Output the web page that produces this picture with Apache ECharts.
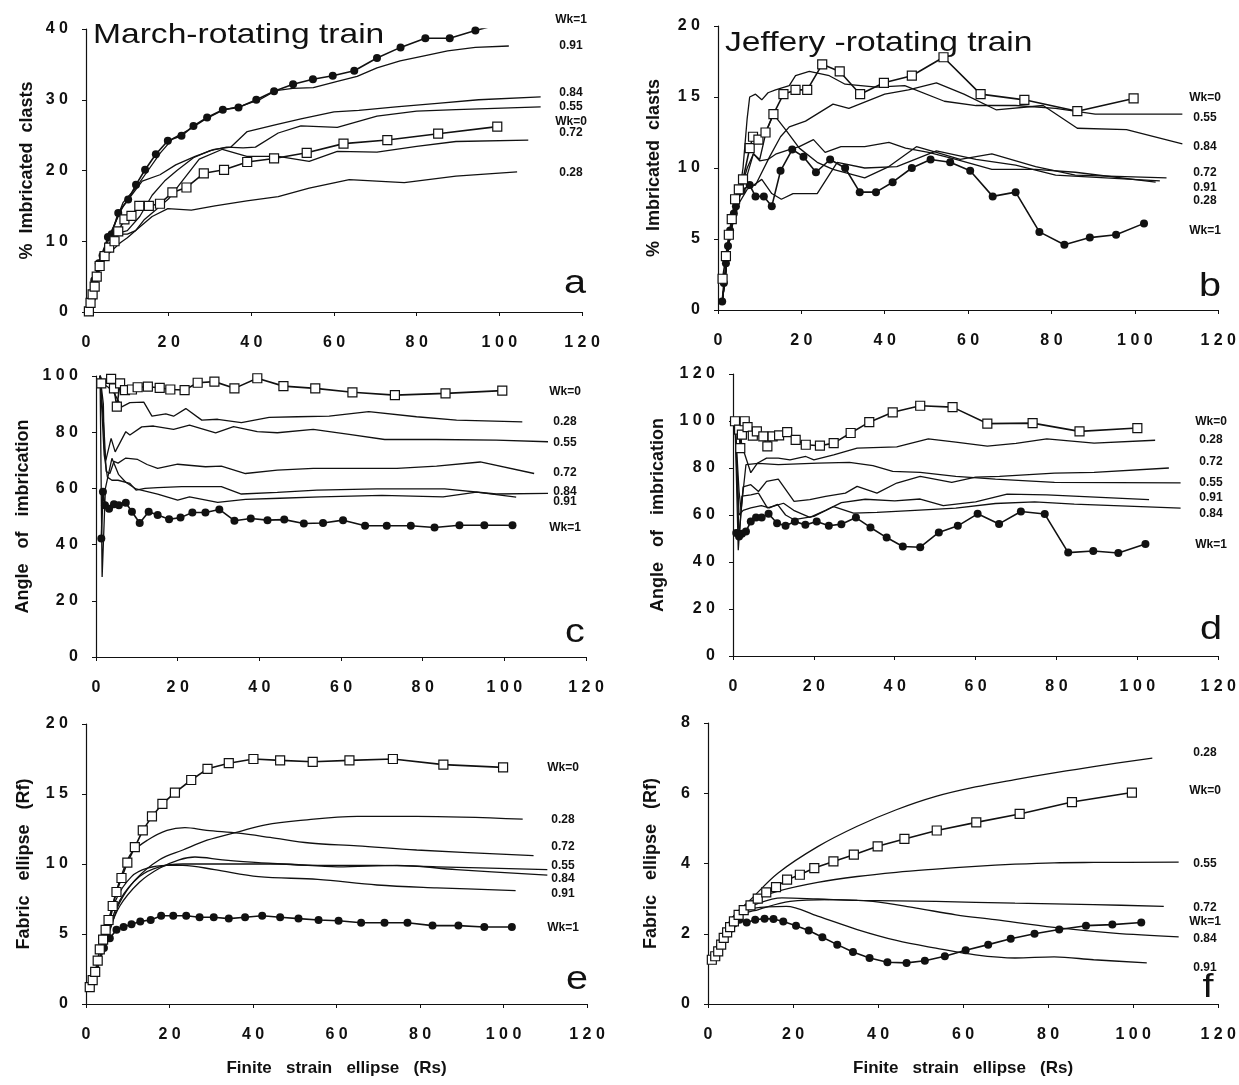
<!DOCTYPE html>
<html>
<head>
<meta charset="utf-8">
<script src="https://cdn.jsdelivr.net/npm/echarts@6/dist/echarts.min.js"></script>
<style>
html, body { margin: 0; padding: 0; background: #fff; }
#chart { width: 1239px; height: 1085px; }
</style>
</head>
<body>
<div id="chart"></div>
<script>
// ---- panel a : March-rotating train, % imbricated clasts ----
var aWk1 = [[1,0],[1.5,2],[2,4.5],[3.1,6.9],[4,8],[5.3,10.6],[6.2,11],[7.8,14],[10.2,15.9],[12.1,18],[14.3,20.1],[16.9,22.3],[19.8,24.2],[23.1,24.9],[26,26.3],[29.3,27.5],[33.1,28.6],[36.9,28.9],[41.2,30],[45.5,31.2],[50.1,32.2],[54.9,32.9],[59.7,33.4],[64.9,34.1],[70.4,35.9],[76.1,37.4],[82.1,38.7],[88,38.7],[94.2,39.8],[100.9,40.8]];
var a091 = [[1,0],[2,4],[3,7],[5,10],[7,12.5],[9,15.5],[12,17.5],[15,20],[18,22.5],[21,24.5],[25,25.8],[29,27.3],[33,28.5],[38,29.2],[42,30],[46,31.3],[50,31.6],[55,31.7],[60.8,32.6],[65.6,33.3],[70.4,34.5],[76,35.5],[81.8,36.2],[87.5,36.9],[94.2,37.4],[102.3,37.6]];
var a084 = [[1,0],[2,4],[3,6.5],[5,9.5],[7,12.5],[9,15],[11,16.5],[13.6,18.5],[17.9,19.4],[21.7,20.8],[26.4,22],[31,23],[35,23.3],[39,25.5],[46,26.5],[52,27.3],[60,28.3],[66,28.5],[75,29],[85,29.5],[95,30],[110,30.4]];
var a055 = [[1,0],[2,3.5],[3,6],[5,9],[7,11],[10,11.5],[13,13.5],[16,16.5],[19,18.5],[22,20],[26,21.8],[30,22.8],[34,23.3],[38,23.2],[41,23.3],[46.5,25.3],[52,26.3],[60.8,26.1],[70.4,27.7],[80,28.4],[89.5,28.6],[110,29]];
var a072 = [[1,0],[2,3.5],[3,6],[5,8.5],[8,11],[10,11],[12,11.5],[14,13],[17,14.5],[20,16],[22.6,18],[27.4,21.6],[33,23],[38.9,22],[46.5,22],[54,21.3],[60.8,22.7],[70.4,22.6],[80,23.4],[89.5,24.1],[107,24.3]];
var a028 = [[1,0],[2,3],[3,5.5],[5,8],[8.3,9.8],[10,10.5],[13,12],[16,13.5],[19.8,14.6],[25.5,14.4],[31.2,15],[38.9,15.7],[46.5,16.3],[54,17.5],[63.7,18.7],[77,18.3],[89.5,19.2],[104.3,19.8]];
var aWk0 = [[0.7,0.1],[1.1,1.3],[1.6,2.5],[2.1,3.6],[2.6,5],[3.3,6.5],[4.5,7.9],[5.6,9.1],[6.9,10],[7.8,11.4],[9.3,13.1],[11,13.6],[12.9,15],[15.2,15],[17.9,15.3],[20.9,16.9],[24.3,17.6],[28.5,19.6],[33.4,20.1],[39,21.2],[45.5,21.7],[53.4,22.5],[62.3,23.8],[72.9,24.3],[85.2,25.2],[99.5,26.2]];

// ---- panel b : Jeffery-rotating train, % imbricated clasts ----
var bWk1 = [[1,0.6],[1.4,1.9],[1.9,3.3],[2.4,4.5],[2.9,5.6],[3.8,6.8],[4.3,7.3],[5.7,8.4],[7.6,8.8],[9,8],[11,8],[12.9,7.3],[15,9.8],[17.8,11.3],[20.5,10.8],[23.5,9.7],[26.9,10.6],[30.5,10],[34,8.3],[37.9,8.3],[41.9,9],[46.5,10],[51,10.6],[55.7,10.4],[60.5,9.8],[65.9,8],[71.4,8.3],[77.1,5.5],[83.1,4.6],[89.2,5.1],[95.5,5.3],[102.2,6.1]];
var bWk0 = [[1.1,2.2],[1.9,3.8],[2.6,5.3],[3.3,6.4],[4.1,7.8],[5,8.5],[6,9.2],[7.6,11.4],[8.4,12.2],[9.7,12],[11.4,12.5],[13.3,13.8],[15.7,15.2],[18.6,15.5],[21.4,15.5],[25,17.3],[29.2,16.8],[34.1,15.2],[39.8,16],[46.5,16.5],[54.1,17.8],[63,15.2],[73.5,14.8],[86.2,14],[99.7,14.9]];
var b055 = [[1,0.5],[2,3],[3,5.5],[4,7],[5,8],[6,10],[7,13.5],[7.6,15],[9,15.2],[10.5,14.8],[12,15.3],[13.8,15.5],[17.1,15.8],[18.6,16.5],[21.9,16.8],[26.7,16.5],[30.5,15.9],[38,15.7],[44.8,15.8],[54.3,14.7],[61.9,14.4],[71.4,14.4],[81,14.2],[90.5,13.8],[111.4,13.8]];
var b084 = [[1,0.5],[2,3],[3,5.5],[5,8],[7,8.7],[9,8.8],[12.4,10.8],[15,12.2],[17.1,12.9],[21,13.3],[27.6,14.5],[31.4,14.2],[40,15.2],[45.7,15.5],[52.4,16],[59,15.2],[66.7,14.1],[78,14.4],[86.2,12.8],[98,12.7],[111.4,11.7]];
var b072 = [[1,0.5],[2,3],[3,5.5],[5,8],[7,9.5],[8.5,11],[10,10.6],[11.5,12.5],[13.3,13.8],[16.2,12.7],[19.5,11.4],[23.8,10.4],[27.6,9.9],[35.2,9.3],[41,10.1],[47.6,11.5],[52.4,11.1],[58.1,10.6],[65.7,11],[76.2,10.1],[85.7,9.5],[107.6,9.3]];
var b091 = [[1,0.5],[2,3],[3,5.5],[5,8],[7,10],[8.5,11],[10,10.5],[12,10.6],[14,11],[17.1,11.3],[19.5,11.5],[22.9,12],[25.7,11.1],[29.5,11.5],[35.2,11.5],[41,11.8],[45,11.4],[50.5,11.1],[57.1,10.6],[65.7,9.9],[76.2,9.9],[85.7,9.7],[105,9]];
var b028 = [[1,0.5],[2,3],[3,5.5],[5,7.5],[7,8.5],[8.6,8.8],[10.5,9.2],[12.9,8.2],[15.2,7.8],[18,8.2],[23.8,8.2],[28.6,10.4],[35.2,10],[42.9,10.1],[52.4,11.2],[61.9,10.6],[71.4,10.2],[81,9.5],[106,9.1]];

// ---- panel c : March-rotating train, angle of imbrication ----
var cWk0 = [[1,100.4],[1.3,97.4],[3.7,99],[4.4,95.6],[5.1,89.1],[5.9,97.4],[7.1,95],[8.8,95.2],[10.2,96],[12.7,96.2],[15.6,95.8],[18.2,95.2],[21.7,95],[24.9,97.6],[29,98],[33.9,95.6],[39.5,99.2],[45.9,96.4],[53.7,95.6],[62.8,94.2],[73.2,93.2],[85.6,93.8],[99.5,94.8]];
var cWk1 = [[1.3,42.2],[1.7,58.8],[2.2,54],[3.2,52.8],[4.4,54.4],[5.6,54],[7.3,54.9],[8.8,51.7],[10.7,47.7],[12.9,51.7],[15.1,50.5],[17.9,49],[20.7,49.6],[23.6,51.4],[26.8,51.4],[30.2,52.5],[33.9,48.5],[37.9,49.3],[42,48.7],[46.1,48.9],[50.9,47.5],[55.6,47.7],[60.5,48.7],[65.9,46.7],[71.2,46.7],[77.1,46.7],[82.9,46.1],[89,46.9],[95.1,46.9],[102,46.9]];
var c028 = [[1,100],[2,97],[3,96],[4.4,94],[6.3,89],[8.3,90.5],[11.7,90.7],[13.7,85.7],[17.1,86.5],[19,85.7],[22,88.4],[25.9,84.3],[29.8,84.6],[35.6,83.4],[42.4,85.3],[49.3,85.5],[57.1,85.7],[66.8,87.3],[78.5,85.5],[88.3,84.3],[104.4,83.7]];
var c055 = [[1,100],[1.8,90],[2,74.8],[2.4,70],[3.7,77.8],[4.7,73],[7.3,80.2],[8.3,79],[11.2,81.9],[14.1,82.2],[19,81],[22.9,82.5],[29.3,79.8],[33.7,82],[39.5,80.2],[44.4,79.8],[53.2,81],[62,79.2],[70.7,77.4],[83.4,77.4],[98,77.2],[110.7,76.6]];
var c072 = [[1,100],[2,80],[2.5,66],[3.4,65.3],[4.4,69.6],[5.4,69],[7.3,70.8],[10.2,70.3],[12.5,68.5],[15.1,67.1],[20,68.6],[26.8,67.7],[30.7,67.9],[36.6,65.3],[44.4,66.5],[53.2,67.1],[63.9,67.1],[73.7,67.1],[83.4,67.9],[94.1,69.4],[107.3,65.3]];
var c084 = [[1,100],[2,72],[2.8,64],[3.9,62.9],[5.4,62.9],[8.3,61.8],[9.8,59.4],[12,60],[15.1,60.3],[21,60.6],[30.7,60.6],[35.6,58],[44.4,58.6],[54.1,59.4],[68.8,59.8],[85.4,59.8],[98,58],[110.7,58.2]];
var c091 = [[1,100],[1.5,28.5],[2.3,60],[3.9,70.7],[5.5,65],[7.3,62.2],[9.8,59.8],[15.1,58],[20,55.8],[22.9,57],[29.8,55],[36.6,56.1],[45,56.5],[55,57],[70,57.5],[85,57],[93.2,58.7],[102.9,56.9]];

// ---- panel d : Jeffery-rotating train, angle of imbrication ----
var dWk0 = [[0.5,99.9],[1.5,96.3],[1.8,88.5],[2.2,94.2],[2.9,99.9],[3.6,97.4],[4.9,93.8],[5.9,95.6],[7.5,93.5],[8.5,89.2],[9.8,93.5],[11.4,93.9],[13.4,95.3],[15.5,92],[18,89.9],[21.5,89.5],[24.9,90.6],[29.1,94.9],[33.7,99.5],[39.5,103.7],[46.3,106.5],[54.3,105.9],[62.9,98.9],[74.1,99.1],[85.7,95.6],[100,97]];
var dWk1 = [[0.8,52.3],[1.5,50.9],[2.2,52],[3.2,53],[4.4,57.2],[5.7,58.9],[7.1,58.9],[8.8,60.5],[10.9,56.5],[13,55.4],[15.3,57.2],[17.9,55.8],[20.7,57.2],[23.7,55.4],[26.8,56.1],[30.4,58.9],[34,54.7],[38,50.4],[42,46.6],[46.3,46.3],[50.9,52.6],[55.6,55.4],[60.5,60.5],[65.8,56.2],[71.2,61.5],[77.1,60.4],[82.9,44],[89.1,44.7],[95.3,43.8],[102,47.7]];
var d028 = [[0.5,100],[1.5,95],[2.5,88],[4.4,78],[6,82],[8.3,84.2],[11.2,84.2],[14.1,83.5],[18,84.9],[20,83.5],[24.9,85.6],[30.7,88.5],[40.5,89],[48.3,92.4],[55.1,91],[62.9,89.3],[70,90.5],[77.6,92.4],[89.3,90.6],[104.4,91.8]];
var d055 = [[0.5,100],[1.5,70],[2,62],[3.2,81.4],[6.3,82],[11.2,81.4],[21,82.1],[28.8,82.4],[34.6,81],[39.5,78.6],[46.3,78.1],[55.1,76.4],[64.9,75.3],[79.5,73.9],[110.7,73.7]];
var d072 = [[0.5,100],[1.5,50],[2.5,72],[4.4,72.9],[6.3,70],[8.3,74.3],[11.2,75.3],[15.1,65.8],[19,66.5],[22.9,67.9],[27.8,69.3],[30.7,72.2],[35.6,69.3],[40.5,73.6],[46.3,76.4],[54.1,73.9],[60,76.1],[65.9,76.4],[79.5,77.8],[89.3,78.1],[107.8,80]];
var d091 = [[0.5,100],[1.3,45],[2.2,68],[4.4,68.6],[6.3,69.3],[8.5,63],[10.5,64],[12.5,65],[15,62],[19,59],[22.9,62],[26.8,65.3],[32.7,66.7],[40,66],[46.3,66.8],[52,64],[60,65.6],[67.8,68.9],[77.6,68.6],[102.9,66.5]];
var d084 = [[0.5,100],[1.5,60],[2.5,62],[4.4,63],[7,64],[9,63],[11,64.5],[13,60],[15.1,58],[20,59.4],[24.9,63.6],[29.8,60.8],[35.6,61.1],[45,62],[55.1,62.9],[64.9,64.9],[74.6,65.6],[84.4,64.6],[110.7,62.9]];

// ---- panel e : March-rotating train, fabric ellipse ----
var eWk0 = [[0.9,1.2],[1.6,1.7],[2.2,2.3],[2.8,3.1],[3.3,3.9],[4.1,4.6],[4.7,5.3],[5.4,6],[6.4,7],[7.3,8],[8.5,9],[9.9,10.1],[11.7,11.2],[13.6,12.4],[15.8,13.4],[18.3,14.3],[21.3,15.1],[25.2,16],[29.1,16.8],[34.2,17.2],[40.1,17.5],[46.5,17.4],[54.3,17.3],[63.1,17.4],[73.5,17.5],[85.6,17.1],[99.9,16.9]];
var eWk1 = [[4.3,4],[5.7,4.7],[7.3,5.3],[9,5.5],[10.9,5.7],[13,5.9],[15.5,6],[18,6.3],[20.9,6.3],[24,6.3],[27.2,6.2],[30.6,6.2],[34.2,6.1],[38.1,6.2],[42.2,6.3],[46.5,6.2],[50.9,6.1],[55.7,6],[60.5,5.95],[65.9,5.8],[71.5,5.8],[77,5.8],[83,5.6],[89.2,5.6],[95.4,5.5],[102,5.5]];
var e028 = [[1,1.2],[3,2.8],[4.7,4.5],[6,5.5],[8,7.2],[11.9,8.9],[17.6,10.3],[23.2,11],[29,11.7],[36.5,12.3],[43,12.8],[50.8,13.1],[65,13.4],[79.2,13.4],[104.6,13.2]];
var e072 = [[1,1.2],[3,3],[5.2,5.5],[7,7.8],[9,9.6],[10.9,10.8],[14.7,11.7],[19.4,12.4],[23.7,12.6],[28.9,12.4],[36.5,12.2],[44.1,11.9],[53.6,11.5],[65,11.3],[79.2,11],[107.2,10.6]];
var e055 = [[1,1.2],[3,2.8],[5,4.8],[8.1,7],[12.8,8.7],[17.6,9.7],[22.3,10.3],[26.1,10.5],[32.7,10.3],[41.3,10.1],[55.5,9.9],[69.7,9.9],[84,9.8],[110.5,9.6]];
var e084 = [[1,1.2],[3,2.8],[5,4.9],[8.1,7.4],[12.8,9.1],[17.6,9.8],[23.2,10],[32.7,10],[46,10],[60.3,9.8],[74.5,9.9],[88.7,9.6],[110.5,9.2]];
var e091 = [[1,1.2],[3,2.8],[5,5],[7.1,7.4],[10.9,9.1],[14.7,9.7],[19.4,9.9],[23.2,9.9],[30.8,9.6],[41.3,9.1],[55.5,8.9],[69.7,8.5],[84,8.3],[102.9,8.1]];

// ---- panel f : Jeffery-rotating train, fabric ellipse ----
var fWk0 = [[0.9,1.26],[1.7,1.36],[2.4,1.5],[3.1,1.69],[3.7,1.88],[4.5,2.04],[5.2,2.19],[6.1,2.35],[7.2,2.54],[8.4,2.67],[10,2.81],[11.7,3],[13.7,3.18],[16,3.33],[18.6,3.54],[21.6,3.68],[25,3.87],[29.5,4.06],[34.3,4.25],[39.9,4.49],[46.2,4.7],[53.8,4.94],[63.1,5.17],[73.3,5.41],[85.6,5.75],[99.7,6.02]];
var fWk1 = [[3,1.7],[4.9,2.1],[6.1,2.29],[7.4,2.4],[9.1,2.32],[11.1,2.4],[13.3,2.43],[15.4,2.42],[17.7,2.35],[20.7,2.23],[23.7,2.09],[26.9,1.9],[30.4,1.69],[34.1,1.48],[38,1.31],[42.2,1.19],[46.7,1.17],[51,1.23],[55.7,1.36],[60.6,1.53],[65.9,1.69],[71.2,1.86],[76.8,2],[82.6,2.12],[88.9,2.23],[95.1,2.26],[101.9,2.32]];
var f028 = [[0.9,1.3],[3.5,2.02],[6,2.5],[10,2.97],[16.5,3.73],[25.8,4.48],[35.1,5.06],[44.3,5.53],[53.6,5.91],[62.9,6.18],[72.2,6.39],[81.4,6.58],[90.7,6.76],[104.5,7]];
var f055 = [[0.9,1.3],[3.5,2],[6,2.5],[10,2.92],[16.5,3.21],[25.8,3.46],[35.1,3.63],[44.3,3.75],[53.6,3.84],[62.9,3.92],[72.2,3.98],[81.4,4.02],[90.7,4.03],[110.7,4.04]];
var f072 = [[0.9,1.3],[3.5,2],[7.2,2.59],[11.9,2.87],[17.4,3.02],[25.8,2.99],[35.1,2.95],[53.6,2.92],[72.2,2.87],[90.7,2.83],[107.2,2.78]];
var f084 = [[0.9,1.3],[3.5,2],[7.2,2.5],[11.9,2.69],[19.3,2.92],[28.6,2.97],[38.8,2.92],[49,2.73],[58.3,2.54],[67.5,2.4],[81.4,2.18],[95.4,2.02],[110.7,1.91]];
var f091 = [[0.9,1.3],[3.5,2],[7.2,2.5],[10.9,2.73],[18.4,2.78],[25.8,2.5],[35.1,2.12],[44.3,1.81],[53.6,1.59],[62.9,1.4],[72.2,1.31],[81.4,1.34],[90.7,1.26],[103.2,1.17]];

var panels = [
  { letter: 'a', left: 86, top: 29, width: 496, height: 283, yMax: 40, yStep: 10, nameGap: 50,
    yName: '%  Imbricated  clasts', title: 'March-rotating train', titleY: 35,
    lines: [['Wk=1', aWk1, 'dot'], ['0.91', a091], ['0.84', a084], ['0.55', a055], ['0.72', a072], ['0.28', a028], ['Wk=0', aWk0, 'box']],
    labels: [['Wk=1', 20], ['0.91', 46], ['0.84', 93], ['0.55', 107], ['Wk=0', 122], ['0.72', 133], ['0.28', 173]], labelDx: 11, letterDx: 7, letterY: 284 },
  { letter: 'b', left: 718, top: 26, width: 502, height: 284, yMax: 20, yStep: 5, nameGap: 55,
    yName: '%  Imbricated  clasts', title: 'Jeffery -rotating train', titleY: 43,
    lines: [['0.55', b055], ['0.84', b084], ['0.72', b072], ['0.91', b091], ['0.28', b028], ['Wk=1', bWk1, 'dot'], ['Wk=0', bWk0, 'box']],
    labels: [['Wk=0', 98], ['0.55', 118], ['0.84', 147], ['0.72', 173], ['0.91', 188], ['0.28', 201], ['Wk=1', 231]], labelDx: 15, letterDx: 10, letterY: 287 },
  { letter: 'c', left: 96, top: 376, width: 490, height: 281, yMax: 100, yStep: 20, nameGap: 64,
    yName: 'Angle   of   imbrication',
    lines: [['0.28', c028], ['0.55', c055], ['0.72', c072], ['0.84', c084], ['0.91', c091], ['Wk=1', cWk1, 'dot'], ['Wk=0', cWk0, 'box']],
    labels: [['Wk=0', 392], ['0.28', 422], ['0.55', 443], ['0.72', 473], ['0.84', 492], ['0.91', 502], ['Wk=1', 528]], labelDx: 21, letterDx: 11, letterY: 633 },
  { letter: 'd', left: 733, top: 374, width: 488, height: 282, yMax: 120, yStep: 20, nameGap: 66,
    yName: 'Angle   of   imbrication',
    lines: [['0.28', d028], ['0.55', d055], ['0.72', d072], ['0.91', d091], ['0.84', d084], ['Wk=1', dWk1, 'dot'], ['Wk=0', dWk0, 'box']],
    labels: [['Wk=0', 422], ['0.28', 440], ['0.72', 462], ['0.55', 483], ['0.91', 498], ['0.84', 514], ['Wk=1', 545]], labelDx: 10, letterDx: 10, letterY: 630 },
  { letter: 'e', left: 86, top: 724, width: 501, height: 280, yMax: 20, yStep: 5, nameGap: 53,
    yName: 'Fabric   ellipse   (Rf)', xName: 'Finite   strain   ellipse   (Rs)', smooth: true,
    lines: [['0.28', e028], ['0.72', e072], ['0.55', e055], ['0.84', e084], ['0.91', e091], ['Wk=1', eWk1, 'dot'], ['Wk=0', eWk0, 'box']],
    labels: [['Wk=0', 768], ['0.28', 820], ['0.72', 847], ['0.55', 866], ['0.84', 879], ['0.91', 894], ['Wk=1', 928]], labelDx: 24, letterDx: 10, letterY: 980 },
  { letter: 'f', left: 708, top: 723, width: 513, height: 281, yMax: 8, yStep: 2, nameGap: 48,
    yName: 'Fabric   ellipse   (Rf)', xName: 'Finite   strain   ellipse   (Rs)', smooth: true,
    lines: [['0.28', f028], ['0.55', f055], ['0.72', f072], ['0.84', f084], ['0.91', f091], ['Wk=1', fWk1, 'dot'], ['Wk=0', fWk0, 'box']],
    labels: [['0.28', 753], ['Wk=0', 791], ['0.55', 864], ['0.72', 908], ['Wk=1', 922], ['0.84', 939], ['0.91', 968]], labelDx: 16, letterDx: 13, letterY: 988 }
];

var ink = '#111';
var font = '"Liberation Sans", Arial, sans-serif';
function spaced(v) { return String(v).split('').join(' '); }

var grids = [], xAxes = [], yAxes = [], series = [], graphics = [];

panels.forEach(function (p, i) {
  grids.push({ left: p.left, top: p.top, width: p.width, height: p.height });
  xAxes.push({
    type: 'value', gridIndex: i, min: 0, max: 120, interval: 20,
    name: p.xName || '', nameLocation: 'middle', nameGap: 56,
    nameTextStyle: { color: ink, fontFamily: font, fontWeight: 'bold', fontSize: 17 },
    axisLine: { onZero: false, lineStyle: { color: ink, width: 1.2 } },
    axisTick: { show: true, length: 4, lineStyle: { color: ink } },
    splitLine: { show: false },
    axisLabel: { color: ink, fontFamily: font, fontWeight: 'bold', fontSize: 16, margin: 23, formatter: spaced }
  });
  yAxes.push({
    type: 'value', gridIndex: i, min: 0, max: p.yMax, interval: p.yStep,
    name: p.yName, nameLocation: 'middle', nameGap: p.nameGap,
    nameTextStyle: { color: ink, fontFamily: font, fontWeight: 'bold', fontSize: 18 },
    axisLine: { show: true, lineStyle: { color: ink, width: 1.2 } },
    axisTick: { show: true, length: 4, lineStyle: { color: ink } },
    splitLine: { show: false },
    axisLabel: { color: ink, fontFamily: font, fontWeight: 'bold', fontSize: 16, margin: 18, formatter: spaced }
  });

  p.lines.forEach(function (ln) {
    var kind = ln[2];
    series.push({
      name: p.letter + ' ' + ln[0], type: 'line', xAxisIndex: i, yAxisIndex: i,
      data: ln[1], smooth: p.smooth && !kind ? 0.35 : false,
      symbol: kind === 'dot' ? 'circle' : (kind === 'box' ? 'rect' : 'none'),
      symbolSize: kind === 'dot' ? 8 : 9,
      showSymbol: !!kind,
      lineStyle: { color: ink, width: kind ? 1.6 : 1.3 },
      itemStyle: kind === 'box' ? { color: '#fff', borderColor: ink, borderWidth: 1.2 } : { color: ink, borderWidth: 0 },
      z: kind === 'box' ? 4 : (kind === 'dot' ? 3 : 2),
      animation: false, silent: true
    });
  });

  var right = p.left + p.width;
  p.labels.forEach(function (lb) {
    graphics.push({
      type: 'text', x: right - p.labelDx, y: lb[1],
      style: { text: lb[0], fill: ink, font: 'bold 12px ' + font, textAlign: 'center', textVerticalAlign: 'middle' }
    });
  });
  graphics.push({
    type: 'text', x: right - p.letterDx, y: p.letterY, scaleX: 1.2,
    style: { text: p.letter, fill: ink, font: '33px ' + font, textAlign: 'center', textVerticalAlign: 'middle' }
  });
  if (p.title) {
    graphics.push({
      type: 'text', x: p.left + 7, y: p.titleY, scaleX: 1.2,
      style: { text: p.title, fill: ink, font: '28px ' + font, textAlign: 'left', textVerticalAlign: 'middle' }
    });
  }
});

var chart = echarts.init(document.getElementById('chart'), null, { renderer: 'canvas' });
chart.setOption({
  backgroundColor: '#fff',
  animation: false,
  grid: grids,
  xAxis: xAxes,
  yAxis: yAxes,
  series: series,
  graphic: graphics
});
</script>
</body>
</html>
